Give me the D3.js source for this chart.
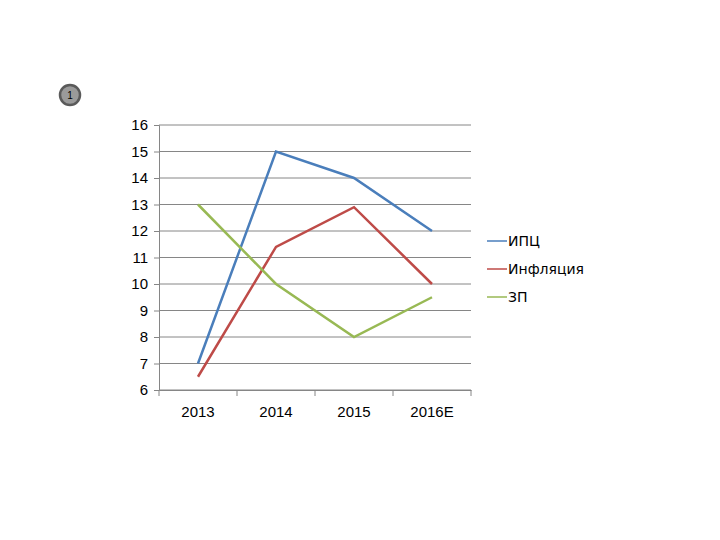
<!DOCTYPE html><html><head><meta charset="utf-8"><script src="https://cdn.jsdelivr.net/npm/d3@7"></script>
<style>body{margin:0;background:#fff}</style></head><body><svg id="c" width="720" height="540"></svg>
<script>
const categories=["2013","2014","2015","2016E"];
const seriesNames=["ИПЦ","Инфляция","ЗП"];
const ipc=[7,15,14,12];
const infl=[6.5,11.4,12.9,10];
const zp=[13,10,8,9.5];
const yTicks=[6,7,8,9,10,11,12,13,14,15,16];
const colors=["#4a7ebb","#be4b48","#98b954"];
const svg=d3.select("#c");
const x=d3.scaleBand().domain(categories).range([159,471]);
const y=d3.scaleLinear().domain([6,16]).range([390,125]);
// gridlines
svg.append("g").selectAll("line").data(yTicks).join("line")
 .attr("x1",159).attr("x2",471).attr("y1",d=>y(d)).attr("y2",d=>y(d))
 .attr("stroke","#868686").attr("stroke-width",1);
const ya=svg.append("g").attr("transform","translate(159,0)").call(d3.axisLeft(y).tickValues(yTicks).tickSize(5).tickPadding(6));
ya.selectAll("text").attr("font-family","Liberation Sans, Arial").attr("font-size",15).attr("fill","#000");
ya.selectAll("line,path").attr("stroke","#868686");
const xa=svg.append("g").attr("transform","translate(0,390)").call(d3.axisBottom(x).tickSize(0).tickPadding(16));
xa.selectAll("text").attr("font-family","Liberation Sans, Arial").attr("font-size",15).attr("fill","#000");
xa.select("path").attr("stroke","#868686");
svg.append("g").selectAll("line").data([...categories.map(c=>x(c)),471]).join("line")
 .attr("x1",d=>d).attr("x2",d=>d).attr("y1",390).attr("y2",396).attr("stroke","#868686");
const line=d3.line().x((d,i)=>x(categories[i])+x.bandwidth()/2).y(d=>y(d));
[ipc,infl,zp].forEach((s,i)=>{
 svg.append("path").datum(s).attr("d",line).attr("fill","none").attr("stroke",colors[i]).attr("stroke-width",2.5);
});
const lg=svg.append("g");
seriesNames.forEach((n,i)=>{
 const yy=241+i*28;
 lg.append("line").attr("x1",487).attr("x2",507).attr("y1",yy).attr("y2",yy).attr("stroke",colors[i]).attr("stroke-width",1.5);
 lg.append("text").attr("x",508).attr("y",yy+5).text(n).attr("font-family","DejaVu Sans").attr("font-size",14).attr("fill","#000");
});
svg.append("circle").attr("cx",70).attr("cy",95).attr("r",10).attr("fill","#9a9a9a").attr("stroke","#5a5a5a").attr("stroke-width",2.5);
svg.append("text").attr("x",70).attr("y",99).attr("text-anchor","middle").attr("font-size",10).attr("font-family","Liberation Sans").text("1");
</script></body></html>
